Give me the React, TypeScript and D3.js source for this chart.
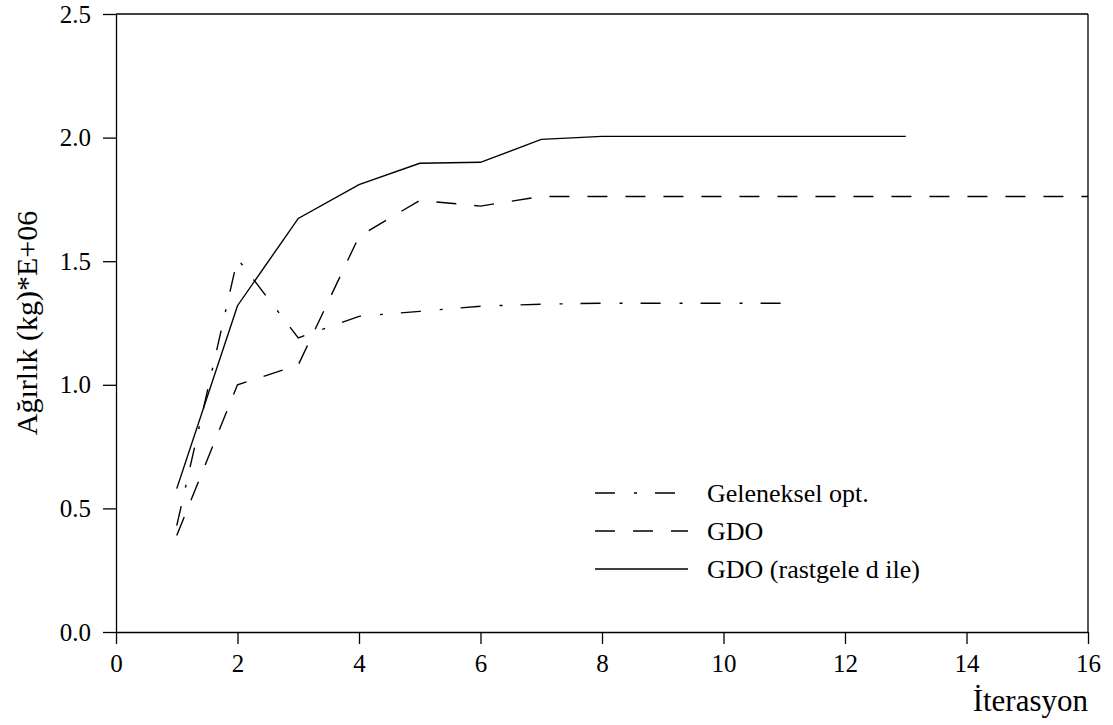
import React, { useEffect, useRef } from "react";
import * as d3 from "d3";

// iterations for each series
const iterGeleneksel = [1, 2, 3, 4, 5, 6, 7, 8, 9, 10, 11];
const iterGDO = [1, 2, 3, 4, 5, 6, 7, 8, 9, 10, 11, 12, 13, 14, 15, 16];
const iterRastgele = [1, 2, 3, 4, 5, 6, 7, 8, 9, 10, 11, 12, 13];

// weights (kg) * E+06
const geleneksel = [0.43, 1.51, 1.19, 1.277, 1.297, 1.318, 1.326, 1.33, 1.33, 1.33, 1.33];
const gdo = [0.39, 1.0, 1.08, 1.6, 1.746, 1.723, 1.762, 1.762, 1.762, 1.762, 1.762, 1.762, 1.762, 1.762, 1.762, 1.762];
const rastgele = [0.58, 1.32, 1.673, 1.81, 1.896, 1.9, 1.993, 2.005, 2.005, 2.005, 2.005, 2.005, 2.005];

const seriesNames = ["Geleneksel opt.", "GDO", "GDO (rastgele d ile)"];
const xTicks = [0, 2, 4, 6, 8, 10, 12, 14, 16];
const yTicks = [0, 0.5, 1.0, 1.5, 2.0, 2.5];

const FONT = "'Times New Roman', 'Liberation Serif', Times, serif";

export default function App() {
  const ref = useRef<SVGSVGElement>(null);

  useEffect(() => {
    const svg = d3.select(ref.current);
    svg.selectAll("*").remove();

    const left = 116, right = 1088, top = 14, bottom = 632;

    const x = d3.scaleLinear().domain([0, 16]).range([left, right]);
    const y = d3.scaleLinear().domain([0, 2.5]).range([bottom, top]);

    const dashes = ["20,19,3,18", "20,18", null];
    const data = [
      iterGeleneksel.map((it, i) => [it, geleneksel[i]]),
      iterGDO.map((it, i) => [it, gdo[i]]),
      iterRastgele.map((it, i) => [it, rastgele[i]]),
    ];

    // frame: top and right borders
    svg.append("line")
      .attr("x1", left).attr("x2", right).attr("y1", top).attr("y2", top)
      .attr("stroke", "#000").attr("stroke-width", 1.3);
    svg.append("line")
      .attr("x1", right).attr("x2", right).attr("y1", top).attr("y2", bottom)
      .attr("stroke", "#000").attr("stroke-width", 1.3);

    // y axis with minor ticks
    const yAxis = svg.append("g").attr("transform", `translate(${left},0)`);
    yAxis.call(
      d3.axisLeft(y).tickValues(d3.range(0, 2.51, 0.25)).tickSize(7).tickSizeOuter(0).tickFormat(() => "")
    );
    yAxis.call(
      d3.axisLeft(y).tickValues(yTicks).tickSize(13).tickSizeOuter(0).tickPadding(12).tickFormat(d3.format(".1f"))
    );
    // x axis with minor ticks
    const xAxis = svg.append("g").attr("transform", `translate(0,${bottom})`);
    xAxis.call(
      d3.axisBottom(x).tickValues(d3.range(0, 17, 1)).tickSize(7).tickSizeOuter(0).tickFormat(() => "")
    );
    xAxis.call(
      d3.axisBottom(x).tickValues(xTicks).tickSize(12).tickSizeOuter(0).tickPadding(10).tickFormat(d3.format("d"))
    );
    svg.selectAll("g").attr("font-family", FONT);
    svg.selectAll(".domain").attr("stroke", "#000").attr("stroke-width", 1.3);
    svg.selectAll(".tick line").attr("stroke", "#000").attr("stroke-width", 1.3);
    svg.selectAll(".tick text")
      .attr("fill", "#000")
      .style("font-family", FONT)
      .attr("font-size", 25);

    // lines
    const line = d3.line<number[]>().x((d) => x(d[0])).y((d) => y(d[1]));
    data.forEach((d, i) => {
      svg.append("path")
        .attr("d", line(d))
        .attr("fill", "none")
        .attr("stroke", "#000")
        .attr("stroke-width", 1.4)
        .attr("stroke-dasharray", dashes[i]);
    });

    // legend
    const legend = svg.append("g");
    seriesNames.forEach((name, i) => {
      const ly = 493 + i * 38;
      legend.append("line")
        .attr("x1", 595).attr("x2", 688).attr("y1", ly).attr("y2", ly)
        .attr("stroke", "#000").attr("stroke-width", 1.4)
        .attr("stroke-dasharray", dashes[i]);
      legend.append("text")
        .attr("x", 707).attr("y", ly + 9)
        .style("font-family", FONT).attr("font-size", 26)
        .text(name);
    });

    // axis titles
    svg.append("text")
      .attr("transform", `translate(37,323) rotate(-90)`)
      .attr("text-anchor", "middle")
      .style("font-family", FONT).attr("font-size", 30)
      .text("Ağırlık (kg)*E+06");
    svg.append("text")
      .attr("x", 1088).attr("y", 711)
      .attr("text-anchor", "end")
      .style("font-family", FONT).attr("font-size", 31)
      .text("İterasyon");
  }, []);

  return (
    <svg ref={ref} width={1113} height={725} style={{ position: "absolute", left: 0, top: 0, background: "#fff" }} />
  );
}
